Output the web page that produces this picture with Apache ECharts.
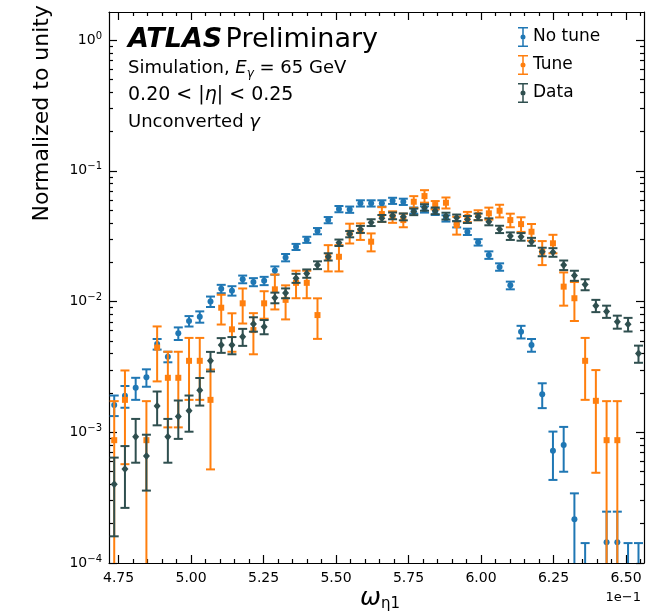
<!DOCTYPE html>
<html>
<head>
<meta charset="utf-8">
<script src="https://cdn.jsdelivr.net/npm/echarts@6/dist/echarts.min.js"></script>
<style>
  html, body { margin: 0; padding: 0; background: #fff; }
  #chart { width: 655px; height: 613px; }
</style>
</head>
<body>
<div id="chart"></div>
<script>
// bin centres of omega_eta1 (x 1e-1)
var binCenters = [
  4.735, 4.772, 4.809, 4.846, 4.883, 4.920, 4.956, 4.993, 5.030, 5.067,
  5.104, 5.141, 5.178, 5.215, 5.252, 5.289, 5.326, 5.362, 5.399, 5.436,
  5.473, 5.510, 5.547, 5.584, 5.621, 5.658, 5.695, 5.732, 5.768, 5.805,
  5.842, 5.879, 5.916, 5.953, 5.990, 6.027, 6.064, 6.101, 6.138, 6.174,
  6.211, 6.248, 6.285, 6.322, 6.359, 6.396, 6.433, 6.470, 6.507, 6.543
];

var noTune = [
  1.62e-3, 1.90e-3, 2.19e-3, 2.63e-3, 4.73e-3, 3.78e-3, 5.71e-3, 7.09e-3, 7.65e-3, 1.00e-2,
  1.25e-2, 1.21e-2, 1.48e-2, 1.41e-2, 1.44e-2, 1.73e-2, 2.17e-2, 2.62e-2, 2.97e-2, 3.46e-2,
  4.20e-2, 5.10e-2, 5.05e-2, 5.64e-2, 5.64e-2, 5.64e-2, 5.90e-2, 5.80e-2, 4.97e-2, 5.07e-2,
  4.86e-2, 4.33e-2, 3.91e-2, 3.42e-2, 2.84e-2, 2.27e-2, 1.84e-2, 1.33e-2, 5.87e-3, 4.65e-3,
  1.95e-3, 7.22e-4, 7.99e-4, 2.16e-4, 7.1e-5, null, 1.44e-4, 1.44e-4, 7.1e-5, 7.1e-5
];
var noTuneErr = [
  2.9e-4, 3.6e-4, 4.2e-4, 4.0e-4, 4.4e-4, 3.5e-4, 6.3e-4, 6.5e-4, 7.6e-4, 9.2e-4,
  9.2e-4, 1.0e-3, 1.0e-3, 1.0e-3, 1.05e-3, 1.26e-3, 1.4e-3, 1.4e-3, 1.6e-3, 1.9e-3,
  2.3e-3, 2.8e-3, 2.8e-3, 3.1e-3, 3.1e-3, 3.1e-3, 3.2e-3, 3.2e-3, 2.7e-3, 2.8e-3,
  2.7e-3, 2.4e-3, 2.2e-3, 1.9e-3, 1.6e-3, 1.5e-3, 1.2e-3, 9.0e-4, 6.5e-4, 5.2e-4,
  4.2e-4, 2.9e-4, 3.0e-4, 1.25e-4, 7.1e-5, null, 1.03e-4, 1.03e-4, 7.1e-5, 7.1e-5
];

var tune = [
  8.7e-4, 1.77e-3, null, 8.7e-4, 4.45e-3, 2.61e-3, 2.61e-3, 3.52e-3, 3.52e-3, 1.77e-3,
  8.97e-3, 6.13e-3, 9.69e-3, 6.05e-3, 9.69e-3, 1.24e-2, 1.03e-2, 1.39e-2, 1.39e-2, 7.88e-3,
  2.20e-2, 2.20e-2, 3.36e-2, 3.46e-2, 2.87e-2, 4.67e-2, 4.45e-2, 4.20e-2, 5.80e-2, 6.41e-2,
  5.47e-2, 5.70e-2, 3.85e-2, 4.45e-2, 4.59e-2, 4.73e-2, 4.95e-2, 4.20e-2, 3.91e-2, 3.42e-2,
  2.40e-2, 2.79e-2, 1.30e-2, 1.06e-2, 3.52e-3, 1.74e-3, 8.7e-4, 8.7e-4, null, null
];
var tuneErr = [
  8.6e-4, 1.2e-3, null, 8.6e-4, 2.0e-3, 1.52e-3, 1.52e-3, 1.75e-3, 1.75e-3, 1.25e-3,
  2.3e-3, 2.0e-3, 2.9e-3, 2.1e-3, 2.3e-3, 3.7e-3, 3.0e-3, 3.3e-3, 3.3e-3, 2.7e-3,
  5.0e-3, 5.0e-3, 5.8e-3, 5.0e-3, 4.5e-3, 6.0e-3, 4.5e-3, 5.0e-3, 6.0e-3, 7.0e-3,
  4.0e-3, 5.5e-3, 6.0e-3, 4.0e-3, 4.0e-3, 5.0e-3, 5.5e-3, 5.0e-3, 5.0e-3, 5.0e-3,
  5.0e-3, 4.5e-3, 3.7e-3, 3.5e-3, 1.75e-3, 1.25e-3, 8.6e-4, 8.6e-4, null, null
];

var dataVals = [
  4.0e-4, 5.24e-4, 9.25e-4, 6.58e-4, 1.59e-3, 9.25e-4, 1.32e-3, 1.46e-3, 2.10e-3, 3.52e-3,
  4.65e-3, 4.65e-3, 5.38e-3, 6.73e-3, 6.42e-3, 1.07e-2, 1.16e-2, 1.51e-2, 1.64e-2, 1.90e-2,
  2.20e-2, 2.82e-2, 3.28e-2, 3.57e-2, 4.02e-2, 4.33e-2, 4.53e-2, 4.45e-2, 4.86e-2, 5.25e-2,
  4.95e-2, 4.51e-2, 4.37e-2, 4.25e-2, 4.45e-2, 4.08e-2, 3.57e-2, 3.17e-2, 3.13e-2, 2.87e-2,
  2.40e-2, 2.38e-2, 1.90e-2, 1.58e-2, 1.35e-2, 9.3e-3, 8.4e-3, 7.0e-3, 6.7e-3, 4.0e-3
];
var dataErr = [
  2.4e-4, 2.6e-4, 3.4e-4, 3.0e-4, 4.6e-4, 3.4e-4, 4.3e-4, 4.5e-4, 5.0e-4, 6.0e-4,
  6.0e-4, 7.0e-4, 8.0e-4, 8.5e-4, 8.0e-4, 1.0e-3, 1.0e-3, 1.2e-3, 1.2e-3, 1.3e-3,
  1.4e-3, 1.6e-3, 1.8e-3, 2.2e-3, 2.4e-3, 2.6e-3, 2.7e-3, 2.7e-3, 2.8e-3, 3.0e-3,
  2.9e-3, 2.7e-3, 2.6e-3, 2.6e-3, 2.6e-3, 2.5e-3, 2.3e-3, 2.1e-3, 2.1e-3, 2.0e-3,
  1.8e-3, 1.8e-3, 1.6e-3, 1.4e-3, 1.3e-3, 1.0e-3, 9.0e-4, 8.0e-4, 8.0e-4, 6.0e-4
];

// axis ticks
var xMajor = [4.75, 5.00, 5.25, 5.50, 5.75, 6.00, 6.25, 6.50];
var xMinor = [4.80, 4.85, 4.90, 4.95, 5.05, 5.10, 5.15, 5.20, 5.30, 5.35, 5.40, 5.45,
  5.55, 5.60, 5.65, 5.70, 5.80, 5.85, 5.90, 5.95, 6.05, 6.10, 6.15, 6.20,
  6.30, 6.35, 6.40, 6.45, 6.55];
var yMajor = [1e-4, 1e-3, 1e-2, 1e-1, 1];
var yMinor = [2e-4, 3e-4, 4e-4, 5e-4, 6e-4, 7e-4, 8e-4, 9e-4,
  2e-3, 3e-3, 4e-3, 5e-3, 6e-3, 7e-3, 8e-3, 9e-3,
  2e-2, 3e-2, 4e-2, 5e-2, 6e-2, 7e-2, 8e-2, 9e-2,
  2e-1, 3e-1, 4e-1, 5e-1, 6e-1, 7e-1, 8e-1, 9e-1];

var FONT = 'DejaVu Sans';
var xMin = 4.717, xMax = 6.562;
var yMin = 1e-4, yMax = 1.64;

function rows(vals, errs) {
  var out = [];
  for (var i = 0; i < binCenters.length; i++) {
    if (vals[i] == null) continue;
    out.push([binCenters[i], vals[i], errs[i]]);
  }
  return out;
}

function marker(kind, p, color) {
  if (kind === 'square') {
    return { type: 'rect', shape: { x: p[0] - 3, y: p[1] - 3, width: 6, height: 6 }, style: { fill: color } };
  }
  if (kind === 'diamond') {
    return { type: 'polygon', shape: { points: [[p[0], p[1] - 4], [p[0] + 3.5, p[1]], [p[0], p[1] + 4], [p[0] - 3.5, p[1]]] }, style: { fill: color } };
  }
  return { type: 'circle', shape: { cx: p[0], cy: p[1], r: 3 }, style: { fill: color } };
}

function errorBars(kind) {
  return function (params, api) {
    var x = api.value(0), y = api.value(1), e = api.value(2);
    var color = api.visual('color');
    var cs = params.coordSys;
    var p = api.coord([x, y]);
    var yTop = api.coord([x, y + e])[1];
    var lowOk = y - e > 0;
    var yBot = lowOk ? api.coord([x, y - e])[1] : cs.y + cs.height + 20;
    var cap = 4.5;
    var st = { stroke: color, lineWidth: 2 };
    var kids = [
      { type: 'line', shape: { x1: p[0], y1: yTop, x2: p[0], y2: yBot }, style: st },
      { type: 'line', shape: { x1: p[0] - cap, y1: yTop, x2: p[0] + cap, y2: yTop }, style: st }
    ];
    if (lowOk) {
      kids.push({ type: 'line', shape: { x1: p[0] - cap, y1: yBot, x2: p[0] + cap, y2: yBot }, style: st });
    }
    kids.push(marker(kind, p, color));
    return { type: 'group', children: kids };
  };
}

function xAxisDef(pos, ticks, len, withLabels, withLine) {
  return {
    type: 'value', position: pos, min: xMin, max: xMax,
    axisLine: { show: withLine, onZero: false, lineStyle: { color: '#000', width: 1.2 } },
    splitLine: { show: false },
    axisTick: { inside: true, length: len, customValues: ticks, lineStyle: { color: '#000', width: 1.2 } },
    axisLabel: withLabels ? {
      customValues: ticks, margin: 8, color: '#000', fontFamily: FONT, fontSize: 14,
      formatter: function (v) { return v.toFixed(2); }
    } : { show: false }
  };
}

function yAxisDef(pos, ticks, len, withLabels, withLine) {
  return {
    type: 'log', logBase: 10, position: pos, min: yMin, max: yMax,
    axisLine: { show: withLine, onZero: false, lineStyle: { color: '#000', width: 1.2 } },
    splitLine: { show: false },
    axisTick: { inside: true, length: len, customValues: ticks, lineStyle: { color: '#000', width: 1.2 } },
    axisLabel: withLabels ? {
      customValues: ticks, margin: 7, color: '#000',
      formatter: function (v) {
        var p = Math.round(Math.log10(v));
        return '{b|10}{s|' + (p < 0 ? '\u2212' + (-p) : p) + '}';
      },
      rich: {
        b: { fontFamily: FONT, fontSize: 14, lineHeight: 18, color: '#000' },
        s: { fontFamily: FONT, fontSize: 10, lineHeight: 10, verticalAlign: 'top', color: '#000' }
      }
    } : { show: false }
  };
}

var ICON = 'path://M0,0H10V1.5H0Z M4.25,0H5.75V20H4.25Z M0,18.5H10V20H0Z M5,7.5A2.5,2.5 0 1,1 5,12.5A2.5,2.5 0 1,1 5,7.5Z';

var chart = echarts.init(document.getElementById('chart'));
chart.setOption({
  animation: false,
  backgroundColor: '#fff',
  grid: { left: 109, right: 11, top: 12, bottom: 50 },
  xAxis: [
    xAxisDef('bottom', xMajor, 8, true, true),
    xAxisDef('bottom', xMinor, 4, false, false),
    xAxisDef('top', xMajor, 8, false, true),
    xAxisDef('top', xMinor, 4, false, false)
  ],
  yAxis: [
    yAxisDef('left', yMajor, 8, true, true),
    yAxisDef('left', yMinor, 4, false, false),
    yAxisDef('right', yMajor, 8, false, true),
    yAxisDef('right', yMinor, 4, false, false)
  ],
  legend: {
    orient: 'vertical', left: 513, top: 22,
    itemWidth: 10, itemHeight: 20, itemGap: 8,
    textStyle: { fontFamily: FONT, fontSize: 17, color: '#000' },
    data: [
      { name: 'No tune', icon: ICON },
      { name: 'Tune', icon: ICON },
      { name: 'Data', icon: ICON }
    ]
  },
  series: [
    { name: 'No tune', type: 'custom', clip: true, itemStyle: { color: '#1f77b4' },
      encode: { x: 0, y: 1 }, renderItem: errorBars('circle'), data: rows(noTune, noTuneErr) },
    { name: 'Tune', type: 'custom', clip: true, itemStyle: { color: '#ff7f0e' },
      encode: { x: 0, y: 1 }, renderItem: errorBars('square'), data: rows(tune, tuneErr) },
    { name: 'Data', type: 'custom', clip: true, itemStyle: { color: '#2f4f4f' },
      encode: { x: 0, y: 1 }, renderItem: errorBars('diamond'), data: rows(dataVals, dataErr) }
  ],
  graphic: [
    { type: 'text', x: 42, y: 5, rotation: Math.PI / 2,
      style: { text: 'Normalized to unity', fontFamily: FONT, fontSize: 22, fill: '#000', align: 'right', verticalAlign: 'middle' } },
    { type: 'text', x: 128, y: 40,
      style: { text: '{a|ATLAS} {b|Preliminary}', verticalAlign: 'middle', fill: '#000',
        rich: { a: { fontFamily: FONT, fontSize: 27, fontWeight: 'bold', fontStyle: 'italic' },
                b: { fontFamily: FONT, fontSize: 27 } } } },
    { type: 'text', x: 128, y: 68,
      style: { text: '{n|Simulation, }{i|E}{s|\u03b3}{n| = 65 GeV}', verticalAlign: 'middle', fill: '#000',
        rich: { n: { fontFamily: FONT, fontSize: 18, lineHeight: 24 },
                i: { fontFamily: FONT, fontSize: 18, fontStyle: 'italic', lineHeight: 24 },
                s: { fontFamily: FONT, fontSize: 12, fontStyle: 'italic', lineHeight: 10, verticalAlign: 'bottom' } } } },
    { type: 'text', x: 128, y: 95,
      style: { text: '{n|0.20 < |}{i|\u03b7}{n|| < 0.25}', verticalAlign: 'middle', fill: '#000',
        rich: { n: { fontFamily: FONT, fontSize: 19 }, i: { fontFamily: FONT, fontSize: 19, fontStyle: 'italic' } } } },
    { type: 'text', x: 128, y: 122,
      style: { text: '{n|Unconverted }{i|\u03b3}', verticalAlign: 'middle', fill: '#000',
        rich: { n: { fontFamily: FONT, fontSize: 18 }, i: { fontFamily: FONT, fontSize: 18, fontStyle: 'italic' } } } },
    { type: 'text', x: 380, y: 598,
      style: { text: '{i|\u03c9}{s|\u03b71}', align: 'center', verticalAlign: 'middle', fill: '#000',
        rich: { i: { fontFamily: FONT, fontSize: 25, fontStyle: 'italic', lineHeight: 28 },
                s: { fontFamily: FONT, fontSize: 15, lineHeight: 12, verticalAlign: 'bottom' } } } },
    { type: 'text', x: 641, y: 598,
      style: { text: '1e\u22121', fontFamily: FONT, fontSize: 13, fill: '#000', align: 'right', verticalAlign: 'middle' } }
  ]
});
</script>
</body>
</html>
